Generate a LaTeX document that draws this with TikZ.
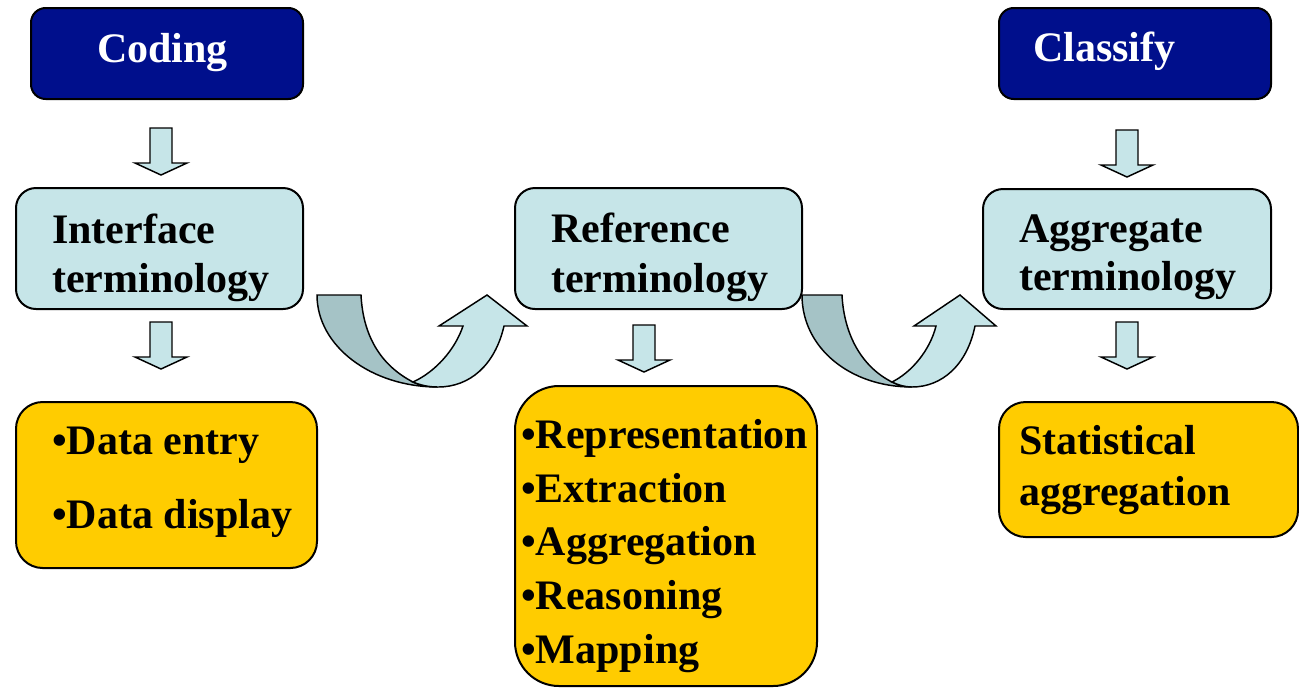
\documentclass[tikz,border=0pt]{standalone}
\usepackage{fontspec}
\setmainfont{Liberation Serif}
\usetikzlibrary{fit}
\definecolor{navy}{RGB}{0,15,140}
\definecolor{paleblue}{RGB}{198,229,232}
\definecolor{greyblue}{RGB}{165,195,198}
\definecolor{gold}{RGB}{255,204,0}
\begin{document}
\begin{tikzpicture}[x=0.75pt,y=-0.75pt,
  boxbase/.style={draw=black,line width=1.5pt,inner sep=0pt},
  navybox/.style={boxbase,fill=navy,rounded corners=11pt},
  cyanbox/.style={boxbase,fill=paleblue,rounded corners=15pt},
  goldbox/.style={boxbase,fill=gold,rounded corners=20pt},
  lbl/.style={anchor=base west,inner sep=0pt,font=\fontsize{31.5}{36}\selectfont\bfseries},
  wlbl/.style={lbl,text=white},
  blockarrow/.style={draw=black,line width=1.1pt,fill=paleblue,line join=miter},
  darkpart/.style={draw=black,line width=1.1pt,fill=greyblue},
  downarr/.pic={\path[blockarrow] (-11,0) -- (11,0) -- (11,35) -- (26,35) -- (0,47) -- (-26,35) -- (-11,35) -- cycle;}
]
\useasboundingbox (0,0) rectangle (1299,687);

% boxes
\node[navybox,fit={(31,8) (303,99)}] (coding) {};
\node[navybox,fit={(999,8) (1271,99)}] (classify) {};
\node[cyanbox,fit={(16,188) (303,309)}] (interface) {};
\node[cyanbox,fit={(515,188) (802,309)}] (reference) {};
\node[cyanbox,fit={(983,189) (1271,309)}] (aggregate) {};
\node[goldbox,fit={(16,402) (317,568)}] (usesL) {};
\node[goldbox,rounded corners=33pt,fit={(515,386) (817,686)}] (usesM) {};
\node[goldbox,fit={(999,402) (1298,537)}] (usesR) {};

% texts
\node[wlbl] (codingT) at (97,62) {Coding};
\node[wlbl] (classifyT) at (1033,61) {Classify};
\node[lbl] (interfaceT1) at (52,243) {Interface};
\node[lbl] (interfaceT2) at (52,292) {terminology};
\node[lbl] (referenceT1) at (551,242) {Reference};
\node[lbl] (referenceT2) at (551,292) {terminology};
\node[lbl] (aggregateT1) at (1019,242) {Aggregate};
\node[lbl] (aggregateT2) at (1019,290) {terminology};
\node[lbl] (usesL1) at (52,454) {•Data entry};
\node[lbl] (usesL2) at (52,528) {•Data display};
\node[lbl] (usesM1) at (521,448) {•Representation};
\node[lbl] (usesM2) at (521,502) {•Extraction};
\node[lbl] (usesM3) at (521,555) {•Aggregation};
\node[lbl] (usesM4) at (521,609) {•Reasoning};
\node[lbl] (usesM5) at (521,663) {•Mapping};
\node[lbl] (usesR1) at (1019,454) {Statistical};
\node[lbl] (usesR2) at (1019,505) {aggregation};

% down block arrows
\pic (a1) at (161,128) {downarr};
\pic (a2) at (161,322) {downarr};
\pic (a3) at (644,325) {downarr};
\pic (a4) at (1127,130) {downarr};
\pic (a5) at (1127,322) {downarr};

% curved up arrow 1
\path[darkpart] (317,295) -- (361,295) .. controls (363,335) and (380,365) .. (413,382)
  .. controls (420,385) and (428,387) .. (438,387)
  .. controls (371,387) and (317,346) .. (317,295) -- cycle;
\path[blockarrow] (413,382) .. controls (435,372) and (455,350) .. (463,326)
  -- (439,326) -- (487,295) -- (527,326) -- (504,326)
  .. controls (495,365) and (470,387) .. (438,387)
  .. controls (428,387) and (420,385) .. (413,382) -- cycle;

% curved up arrow 2
\path[darkpart] (802,295) -- (842,295) .. controls (844,335) and (862,367) .. (892,382)
  .. controls (898,385) and (905,387) .. (912,387)
  .. controls (850,387) and (802,348) .. (802,295) -- cycle;
\path[blockarrow] (892,382) .. controls (912,372) and (930,350) .. (936,326)
  -- (914,326) -- (960,295) -- (996,326) -- (975,326)
  .. controls (967,365) and (942,387) .. (912,387)
  .. controls (905,387) and (898,385) .. (892,382) -- cycle;
\end{tikzpicture}
\end{document}
